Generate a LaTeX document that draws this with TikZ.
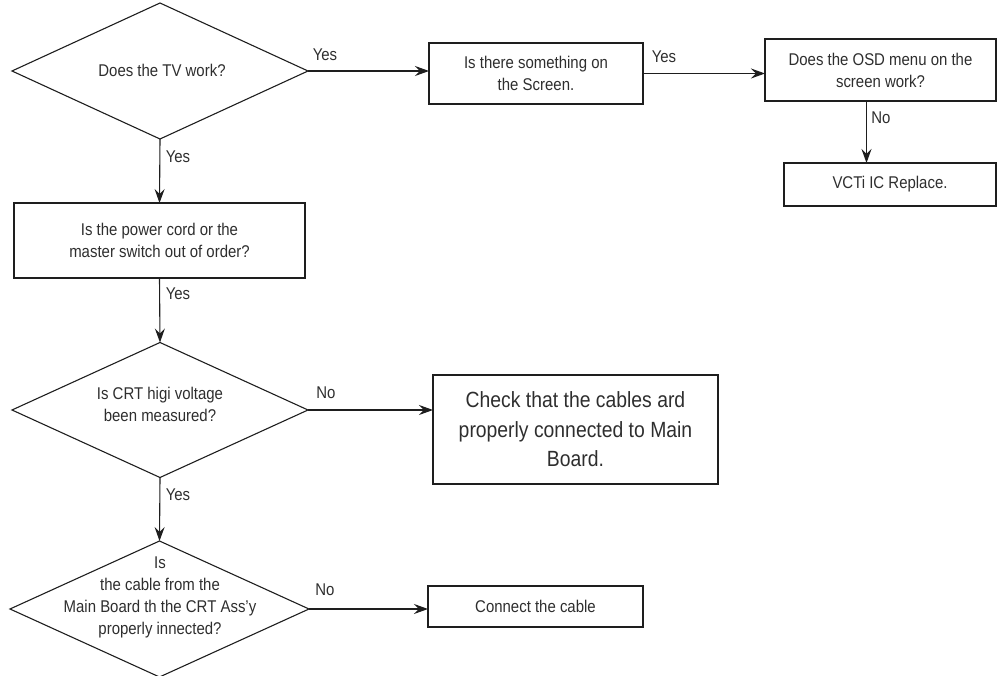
\documentclass[tikz,border=0pt]{standalone}
\usepackage{fontspec}
\setmainfont[FakeStretch=0.88]{Liberation Sans}
\usetikzlibrary{shapes.geometric,arrows.meta,calc}
\definecolor{ink}{HTML}{1E1E1E}
\definecolor{txt}{HTML}{2E2E2E}
\begin{document}
\begin{tikzpicture}[x=1pt,y=-1pt,
  every node/.style={inner sep=0pt,outer sep=0pt,text=txt,font=\fontsize{17}{22}\selectfont},
  dia/.style={draw=ink,line width=1.1pt,diamond,minimum width=296pt,minimum height=136pt},
  box/.style={draw=ink,line width=1.1pt,rectangle,align=center},
  lbl/.style={anchor=center},
  conn/.style={draw=ink,line width=1.1pt,-{Stealth[length=14pt,width=10pt,inset=5pt]}}
]
\useasboundingbox (0,0) rectangle (997,676);

% decisions
\node[dia] (d1) at (160,71) {};
\node[align=center] (d1t) at (162,70) {Does the TV work?};
\node[dia,minimum height=135pt] (d2) at (160,410) {};
\node[align=center] (d2t) at (160,404) {Is CRT higi voltage\\been measured?};
\node[dia,minimum width=299pt,minimum height=136pt] (d3) at (159.5,609) {};
\node[align=center] (d3t) at (160,597) {Is\\the cable from the\\Main Board th the CRT Ass’y\\properly innected?};

% boxes
\node[box,minimum width=214pt,minimum height=61pt] (b2) at (536,73.5) {Is there something on\\the Screen.};
\node[box,minimum width=231pt,minimum height=62pt] (b3) at (880.5,70) {Does the OSD menu on the\\screen work?};
\node[box,minimum width=212pt,minimum height=43pt] (b4) at (890,184.5) {VCTi IC Replace.};
\node[box,minimum width=291pt,minimum height=75pt] (p) at (159.5,240.5) {Is the power cord or the\\master switch out of order?};
\node[box,minimum width=285pt,minimum height=109pt,font=\fontsize{22}{29.5}\selectfont] (b5) at (575.5,429.5) {Check that the cables ard\\properly connected to Main\\Board.};
\node[box,minimum width=215pt,minimum height=41pt] (b6) at (535.5,606.5) {Connect the cable};

% connectors
\draw[conn] (d1.east) -- (d1.east -| b2.west);
\draw[conn] (b2.east) -- (b2.east -| b3.west);
\draw[conn] ([xshift=-14pt]b3.south) -- ([xshift=-14pt]b3.south |- b4.north);
\draw[conn] (d1.south) -- (p.north);
\draw[conn] (p.south) -- (d2.north);
\draw[conn] (d2.east) -- (d2.east -| b5.west);
\draw[conn] (d2.south) -- (d3.north);
\draw[conn] (d3.east) -- (d3.east -| b6.west);

% labels
\node[lbl] (l1) at (325,55) {Yes};
\node[lbl] (l2) at (664,57) {Yes};
\node[lbl] (l3) at (881,118) {No};
\node[lbl] (l4) at (178,157) {Yes};
\node[lbl] (l5) at (178,294) {Yes};
\node[lbl] (l6) at (326,393) {No};
\node[lbl] (l7) at (178,495) {Yes};
\node[lbl] (l8) at (325,590) {No};
\end{tikzpicture}
\end{document}
